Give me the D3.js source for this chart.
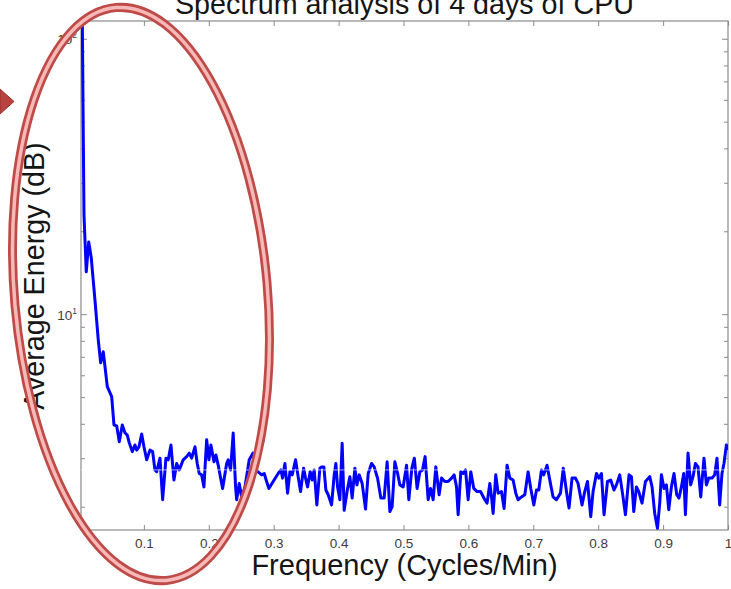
<!DOCTYPE html>
<html>
<head>
<meta charset="utf-8">
<script src="https://cdn.jsdelivr.net/npm/d3@7"></script>
<style>
    body { margin: 0; background: #fff; }
    svg { display: block; font-family: "Liberation Sans", Arial, sans-serif; }
</style>
</head>
<body>
<svg id="chart" width="731" height="589"></svg>
<script>
// spectrum: frequency (cycles/min) and average energy
const frequencies = [
    0.0031, 0.0077, 0.0112, 0.0150, 0.0189, 0.0246, 0.0297, 0.0334, 0.0374, 0.0400,
    0.0436, 0.0504, 0.0539, 0.0581, 0.0621, 0.0667, 0.0708, 0.0744, 0.0775, 0.0821,
    0.0862, 0.0889, 0.0924, 0.0966, 0.1001, 0.1043, 0.1093, 0.1135, 0.1170, 0.1197,
    0.1248, 0.1289, 0.1340, 0.1375, 0.1417, 0.1463, 0.1505, 0.1545, 0.1606, 0.1659,
    0.1699, 0.1736, 0.1787, 0.1822, 0.1853, 0.1890, 0.1925, 0.1967, 0.2002, 0.2033,
    0.2079, 0.2110, 0.2145, 0.2213, 0.2275, 0.2299, 0.2336, 0.2376, 0.2413, 0.2429,
    0.2469, 0.2506, 0.2557, 0.2623, 0.2680, 0.2726, 0.2764, 0.2814, 0.2854, 0.2891,
    0.2926, 0.2992, 0.3069, 0.3111, 0.3137, 0.3173, 0.3214, 0.3250, 0.3285, 0.3337,
    0.3377, 0.3414, 0.3461, 0.3491, 0.3522, 0.3562, 0.3593, 0.3624, 0.3665, 0.3712,
    0.3738, 0.3773, 0.3804, 0.3840, 0.3892, 0.3932, 0.3958, 0.3984, 0.4020, 0.4055,
    0.4086, 0.4138, 0.4174, 0.4209, 0.4251, 0.4282, 0.4317, 0.4363, 0.4415, 0.4456,
    0.4508, 0.4548, 0.4600, 0.4651, 0.4702, 0.4748, 0.4790, 0.4825, 0.4867, 0.4908,
    0.4944, 0.4995, 0.5047, 0.5082, 0.5129, 0.5167, 0.5210, 0.5252, 0.5293, 0.5333,
    0.5380, 0.5417, 0.5457, 0.5498, 0.5549, 0.5586, 0.5637, 0.5688, 0.5740, 0.5780,
    0.5817, 0.5842, 0.5883, 0.5919, 0.5956, 0.5996, 0.6037, 0.6083, 0.6134, 0.6187,
    0.6253, 0.6288, 0.6330, 0.6356, 0.6381, 0.6422, 0.6458, 0.6510, 0.6550, 0.6596,
    0.6638, 0.6689, 0.6730, 0.6766, 0.6818, 0.6869, 0.6920, 0.6961, 0.7008, 0.7049,
    0.7085, 0.7126, 0.7161, 0.7212, 0.7254, 0.7305, 0.7357, 0.7419, 0.7462, 0.7516,
    0.7551, 0.7597, 0.7650, 0.7690, 0.7751, 0.7793, 0.7835, 0.7885, 0.7921, 0.7973,
    0.8009, 0.8050, 0.8090, 0.8143, 0.8193, 0.8244, 0.8281, 0.8332, 0.8374, 0.8420,
    0.8475, 0.8512, 0.8548, 0.8589, 0.8625, 0.8675, 0.8728, 0.8794, 0.8830, 0.8871,
    0.8913, 0.8948, 0.8974, 0.9014, 0.9051, 0.9087, 0.9128, 0.9168, 0.9210, 0.9245,
    0.9282, 0.9318, 0.9344, 0.9384, 0.9425, 0.9461, 0.9498, 0.9538, 0.9580, 0.9630,
    0.9667, 0.9703, 0.9753, 0.9795, 0.9830, 0.9872, 0.9907, 0.9938, 0.9975, 1.0000
];

const energies = [
    400, 22.95, 14.25, 18.3, 16.02, 11.27, 8.07, 6.66, 7.30, 6.47,
    5.46, 5.02, 3.96, 3.93, 3.44, 3.96, 3.71, 3.64, 3.41, 3.17,
    3.35, 3.21, 3.30, 3.67, 3.30, 2.96, 3.21, 3.17, 2.72, 2.68,
    3.00, 2.12, 3.00, 2.96, 3.35, 2.50, 2.87, 2.72, 2.96, 3.04,
    3.13, 3.00, 3.30, 2.87, 2.64, 2.61, 2.36, 3.50, 2.96, 3.35,
    2.91, 3.08, 2.83, 2.33, 2.87, 2.96, 2.72, 3.70, 2.36, 2.12,
    2.43, 2.17, 2.36, 2.96, 3.13, 2.72, 2.67, 2.61, 2.64, 2.47,
    2.33, 2.47, 2.64, 2.72, 2.54, 2.87, 2.24, 2.68, 2.61, 2.96,
    2.57, 2.27, 2.76, 2.54, 2.36, 2.68, 2.50, 2.72, 2.03, 2.76,
    2.79, 2.79, 2.30, 2.21, 2.03, 2.61, 2.87, 2.36, 2.12, 3.40,
    1.94, 2.33, 2.57, 2.15, 2.76, 2.40, 2.61, 2.43, 1.96, 2.64,
    2.87, 2.79, 2.54, 2.15, 2.15, 2.91, 1.92, 2.00, 2.91, 2.65,
    2.40, 2.36, 2.83, 2.12, 2.76, 3.00, 2.33, 2.68, 2.72, 3.04,
    2.12, 2.33, 2.12, 2.79, 2.21, 2.54, 2.47, 2.47, 2.54, 2.61,
    2.36, 1.87, 2.68, 2.64, 2.72, 2.12, 2.68, 2.33, 2.27, 2.27,
    2.12, 2.06, 2.43, 2.17, 1.89, 2.61, 2.24, 2.27, 1.97, 2.83,
    2.54, 2.50, 2.24, 2.12, 2.17, 2.21, 2.68, 2.33, 2.03, 2.30,
    2.30, 2.72, 2.61, 2.83, 2.50, 2.17, 2.12, 2.24, 2.76, 2.23,
    1.98, 2.54, 2.54, 2.43, 2.03, 2.27, 2.47, 1.84, 2.27, 2.64,
    2.54, 2.64, 1.87, 2.47, 2.50, 2.30, 2.40, 2.61, 2.24, 1.87,
    2.61, 2.57, 1.92, 2.36, 2.27, 2.06, 2.47, 2.57, 2.36, 1.89,
    1.67, 2.06, 2.61, 2.33, 2.40, 1.95, 2.36, 2.64, 2.21, 2.15,
    2.36, 2.64, 1.87, 3.13, 2.40, 2.57, 2.87, 2.79, 2.17, 3.00,
    2.40, 2.54, 2.54, 2.61, 3.00, 2.03, 2.64, 2.87, 3.35, 3.21
];

const xDomain = [0.0031, 1];
const yDomain = [1.646, 116];
const xTicks = [0.1, 0.2, 0.3, 0.4, 0.5, 0.6, 0.7, 0.8, 0.9, 1];
const xTickLabels = ['0.1', '0.2', '0.3', '0.4', '0.5', '0.6', '0.7', '0.8', '0.9', '1'];
const yMajorTicks = [10, 100];
const yMajorExponents = ['1', '2'];
const yMinorTicks = [2, 3, 4, 5, 6, 7, 8, 9, 20, 30, 40, 50, 60, 70, 80, 90];
const artifactLevel = 2.72; // faint white scan line across the plot

const titleText = 'Spectrum analysis of 4 days of CPU';
const xLabelText = 'Frequency (Cycles/Min)';
const yLabelText = 'Average Energy (dB)';

const plot = { left: 81, right: 728, top: 21, bottom: 530 };
const axisGrey = '#8a8a8a';

const svg = d3.select('#chart');

const x = d3.scaleLinear().domain(xDomain).range([plot.left, plot.right]);
const y = d3.scaleLog().domain(yDomain).range([plot.bottom, plot.top]);

svg.append('defs')
    .append('clipPath')
    .attr('id', 'plotClip')
    .append('rect')
    .attr('x', plot.left)
    .attr('y', plot.top)
    .attr('width', plot.right - plot.left)
    .attr('height', plot.bottom - plot.top);

/*
 * Axes (box with inward ticks on all four sides)
 */

const styleAxis = g => {
    g.select('.domain').remove();
    g.selectAll('.tick line').attr('stroke', axisGrey).attr('stroke-width', 1);
    g.selectAll('.tick text')
        .attr('fill', '#3c3c3c')
        .style('font-size', '13.5px');
};

svg.append('g')
    .attr('transform', `translate(0,${plot.bottom})`)
    .call(d3.axisBottom(x)
        .tickValues(xTicks)
        .tickSize(-5)
        .tickSizeOuter(0)
        .tickPadding(8)
        .tickFormat((d, i) => xTickLabels[i]))
    .call(styleAxis);

svg.append('g')
    .attr('transform', `translate(0,${plot.top})`)
    .call(d3.axisTop(x).tickValues(xTicks).tickSize(-5).tickSizeOuter(0).tickFormat(''))
    .call(styleAxis);

[[yMajorTicks, 6], [yMinorTicks, 4]].forEach(([ticks, len]) => {
    svg.append('g')
        .attr('transform', `translate(${plot.left},0)`)
        .call(d3.axisLeft(y).tickValues(ticks).tickSize(-len).tickSizeOuter(0).tickFormat(''))
        .call(styleAxis);
    svg.append('g')
        .attr('transform', `translate(${plot.right},0)`)
        .call(d3.axisRight(y).tickValues(ticks).tickSize(-len).tickSizeOuter(0).tickFormat(''))
        .call(styleAxis);
});

// 10^n labels with superscript exponents
const yLabels = svg.append('g')
    .selectAll('text')
    .data(yMajorTicks)
    .join('text')
    .attr('x', plot.left - 4)
    .attr('y', d => y(d) + 5.5)
    .attr('text-anchor', 'end')
    .attr('fill', '#3c3c3c')
    .style('font-size', '13.5px');
yLabels.append('tspan').text('10');
yLabels.append('tspan')
    .attr('dy', -6)
    .style('font-size', '8.5px')
    .text((d, i) => yMajorExponents[i]);

svg.append('rect')
    .attr('x', plot.left)
    .attr('y', plot.top)
    .attr('width', plot.right - plot.left)
    .attr('height', plot.bottom - plot.top)
    .attr('fill', 'none')
    .attr('stroke', axisGrey)
    .attr('stroke-width', 1.2);

/*
 * Spectrum line
 */

const points = frequencies.map((f, i) => [f, energies[i]]);

svg.append('path')
    .datum(points)
    .attr('clip-path', 'url(#plotClip)')
    .attr('fill', 'none')
    .attr('stroke', '#0000ff')
    .attr('stroke-width', 3)
    .attr('stroke-linejoin', 'round')
    .attr('d', d3.line().x(d => x(d[0])).y(d => y(d[1])));

svg.append('line')
    .attr('x1', plot.left)
    .attr('x2', plot.right)
    .attr('y1', y(artifactLevel))
    .attr('y2', y(artifactLevel))
    .attr('stroke', '#fff')
    .attr('stroke-width', 0.8)
    .attr('opacity', 0.8);

/*
 * Titles
 */

svg.append('text')
    .attr('x', (plot.left + plot.right) / 2)
    .attr('y', 13.5)
    .attr('text-anchor', 'middle')
    .attr('fill', '#151515')
    .style('font-size', '28.7px')
    .text(titleText);

svg.append('text')
    .attr('x', (plot.left + plot.right) / 2)
    .attr('y', 575)
    .attr('text-anchor', 'middle')
    .attr('fill', '#151515')
    .style('font-size', '29px')
    .text(xLabelText);

svg.append('text')
    .attr('transform', 'translate(44,276) rotate(-90)')
    .attr('text-anchor', 'middle')
    .attr('fill', '#151515')
    .style('font-size', '28.7px')
    .text(yLabelText);

/*
 * Slide annotation: arrow tip and the red ellipse
 */

svg.append('polygon')
    .attr('points', '0,89 14,101.5 0,114')
    .attr('fill', '#b8423f')
    .attr('stroke', '#963330')
    .attr('stroke-width', 1);

const ellipse = svg.append('g').attr('transform', 'translate(141,294) rotate(-5)');
ellipse.append('ellipse')
    .attr('rx', 126.5)
    .attr('ry', 287.5)
    .attr('fill', 'none')
    .attr('stroke', '#bf4b48')
    .attr('stroke-width', 9);
ellipse.append('ellipse')
    .attr('rx', 126.5)
    .attr('ry', 287.5)
    .attr('fill', 'none')
    .attr('stroke', '#f6b9b7')
    .attr('stroke-width', 3.5);
</script>
</body>
</html>
